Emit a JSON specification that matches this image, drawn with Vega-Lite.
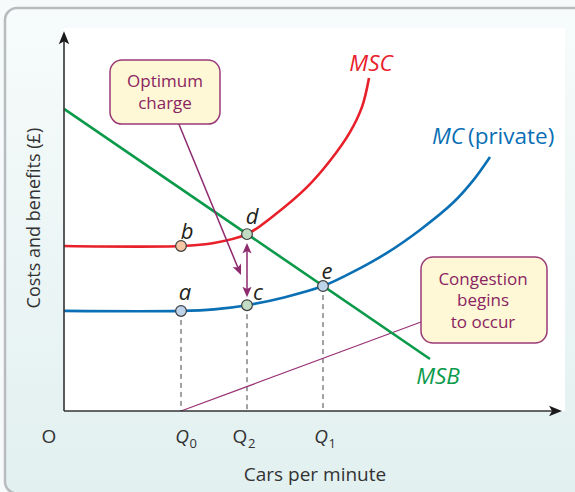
{
  "$schema": "https://vega.github.io/schema/vega-lite/v6.json",
  "width": 500,
  "height": 382,
  "autosize": {"type": "none"},
  "padding": {"left": 64, "top": 29, "right": 11, "bottom": 81},
  "background": "#f6fafa",
  "config": {"view": {"stroke": null}, "font": "Open Sans"},
  "encoding": {
    "x": {"field": "x", "type": "quantitative", "scale": {"domain": [0, 100], "nice": false, "zero": false}, "axis": null},
    "y": {"field": "y", "type": "quantitative", "scale": {"domain": [0, 100], "nice": false, "zero": false}, "axis": null}
  },
  "layer": [
    {
      "data": {"values": [{"x": -11.8, "x2": 115, "y": 105.5, "y2": -21.6}]},
      "mark": {"type": "rect", "clip": false, "cornerRadius": 12, "stroke": "#b9bcbf", "strokeWidth": 2.5,
        "fill": {"gradient": "linear", "x1": 0, "y1": 0, "x2": 0, "y2": 1,
          "stops": [{"offset": 0, "color": "#f7fbfb"}, {"offset": 1, "color": "#e2f0f0"}]}},
      "encoding": {"x2": {"field": "x2"}, "y2": {"field": "y2"}}
    },
    {
      "data": {"values": [{"x": 0, "x2": 100.2, "y": 0, "y2": 100.3}]},
      "mark": {"type": "rect", "fill": "#ffffff", "clip": false},
      "encoding": {"x2": {"field": "x2"}, "y2": {"field": "y2"}}
    },
    {
      "data": {"values": [{"x": 23.4, "y": 26.2, "y2": 0}, {"x": 36.6, "y": 27.7, "y2": 0}, {"x": 51.8, "y": 32.7, "y2": 0}]},
      "mark": {"type": "rule", "color": "#444444", "strokeWidth": 1, "strokeDash": [5, 4]},
      "encoding": {"y2": {"field": "y2"}}
    },
    {
      "data": {"values": [{"x": 23.4, "y": 0, "x2": 71.4, "y2": 23.3}]},
      "mark": {"type": "rule", "color": "#9a3577", "strokeWidth": 1.3},
      "encoding": {"x2": {"field": "x2"}, "y2": {"field": "y2"}}
    },
    {
      "data": {"values": [
        {"curve": "MSC", "x": 0, "y": 43.2}, {"curve": "MSC", "x": 23.4, "y": 43.2}, {"curve": "MSC", "x": 30, "y": 44.0},
        {"curve": "MSC", "x": 36.6, "y": 46.3}, {"curve": "MSC", "x": 41.8, "y": 51.0}, {"curve": "MSC", "x": 48.6, "y": 58.6},
        {"curve": "MSC", "x": 53.2, "y": 65.5}, {"curve": "MSC", "x": 57.2, "y": 73.0}, {"curve": "MSC", "x": 59.6, "y": 79.6},
        {"curve": "MSC", "x": 61, "y": 87.2},
        {"curve": "MC", "x": 0, "y": 26.2}, {"curve": "MC", "x": 23.4, "y": 26.2}, {"curve": "MC", "x": 30, "y": 26.6},
        {"curve": "MC", "x": 36.6, "y": 27.7}, {"curve": "MC", "x": 44.2, "y": 29.8}, {"curve": "MC", "x": 51.8, "y": 32.7},
        {"curve": "MC", "x": 57.8, "y": 36.4}, {"curve": "MC", "x": 64.6, "y": 41.4}, {"curve": "MC", "x": 71.2, "y": 47.4},
        {"curve": "MC", "x": 77.8, "y": 54.5}, {"curve": "MC", "x": 81.8, "y": 60.3}, {"curve": "MC", "x": 85.2, "y": 66.5},
        {"curve": "MSB", "x": 0, "y": 79.1}, {"curve": "MSB", "x": 73.2, "y": 13.6}
      ]},
      "mark": {"type": "line", "strokeWidth": 2.6, "interpolate": "catmull-rom"},
      "encoding": {
        "color": {"field": "curve", "type": "nominal", "legend": null,
          "scale": {"domain": ["MSC", "MC", "MSB"], "range": ["#e8202a", "#0a6fb4", "#0a9a4a"]}}
      }
    },
    {
      "data": {"values": [{"x": 22.6, "y": 76.3, "x2": 35.1, "y2": 36.5}, {"x": 36.6, "y": 42.0, "x2": 36.6, "y2": 31.8}]},
      "mark": {"type": "rule", "color": "#8e2a6e", "strokeWidth": 1.5},
      "encoding": {"x2": {"field": "x2"}, "y2": {"field": "y2"}}
    },
    {
      "data": {"values": [{"x": 35.4, "y": 35.6}]},
      "mark": {"type": "point", "filled": true, "opacity": 1, "color": "#8e2a6e", "size": 196, "angle": 157,
        "shape": "M0,0L-0.65,1.5L0,1.15L0.65,1.5Z"}
    },
    {
      "data": {"values": [{"x": 36.6, "y": 44.0}]},
      "mark": {"type": "point", "filled": true, "opacity": 1, "color": "#8e2a6e", "size": 196, "angle": 0,
        "shape": "M0,0L-0.65,1.5L0,1.15L0.65,1.5Z"}
    },
    {
      "data": {"values": [{"x": 36.6, "y": 29.8}]},
      "mark": {"type": "point", "filled": true, "opacity": 1, "color": "#8e2a6e", "size": 196, "angle": 180,
        "shape": "M0,0L-0.65,1.5L0,1.15L0.65,1.5Z"}
    },
    {
      "data": {"values": [
        {"x": 23.4, "y": 43.2, "kind": "social"}, {"x": 23.4, "y": 26.2, "kind": "private"},
        {"x": 36.6, "y": 46.3, "kind": "optimum"}, {"x": 36.6, "y": 27.7, "kind": "optimum"},
        {"x": 51.8, "y": 32.7, "kind": "private"}
      ]},
      "mark": {"type": "point", "filled": true, "opacity": 1, "size": 115, "stroke": "#3d3d3d", "strokeWidth": 1.2},
      "encoding": {
        "fill": {"field": "kind", "type": "nominal", "legend": null,
          "scale": {"domain": ["social", "private", "optimum"], "range": ["#f7c6a4", "#bed4eb", "#c2dcc4"]}}
      }
    },
    {
      "data": {"values": [{"x": 9.2, "x2": 31.2, "y": 91.9, "y2": 75.1}, {"x": 71.4, "x2": 96.6, "y": 40.3, "y2": 17.8}]},
      "mark": {"type": "rect", "fill": "#fff8d6", "stroke": "#9b3a78", "strokeWidth": 1.5, "cornerRadius": 12, "clip": false},
      "encoding": {"x2": {"field": "x2"}, "y2": {"field": "y2"}}
    },
    {
      "data": {"values": [
        {"x": 20.2, "y": 86.1, "t": "Optimum\ncharge"},
        {"x": 83.8, "y": 34.4, "t": "Congestion\nbegins\nto occur"}
      ]},
      "mark": {"type": "text", "fontSize": 17, "lineHeight": 21.5, "lineBreak": "\n", "color": "#8a2461", "align": "center", "baseline": "middle"},
      "encoding": {"text": {"field": "t"}}
    },
    {
      "data": {"values": [
        {"x": 24.6, "y": 46.9, "t": "b"}, {"x": 24.2, "y": 30.9, "t": "a"}, {"x": 37.6, "y": 50.8, "t": "d"},
        {"x": 38.8, "y": 30.9, "t": "c"}, {"x": 52.6, "y": 36.4, "t": "e"}
      ]},
      "mark": {"type": "text", "fontSize": 22, "fontStyle": "italic", "color": "#231f20", "align": "center", "baseline": "middle"},
      "encoding": {"text": {"field": "t"}}
    },
    {
      "data": {"values": [{"x": 61.4, "y": 90.8, "t": "MSC"}]},
      "mark": {"type": "text", "fontSize": 22.5, "fontStyle": "italic", "color": "#e8202a", "align": "center", "baseline": "middle"},
      "encoding": {"text": {"field": "t"}}
    },
    {
      "data": {"values": [{"x": 80.0, "y": 71.7, "t": "MC"}]},
      "mark": {"type": "text", "fontSize": 22.5, "fontStyle": "italic", "color": "#0a6fb4", "align": "right", "baseline": "middle"},
      "encoding": {"text": {"field": "t"}}
    },
    {
      "data": {"values": [{"x": 80.8, "y": 71.7, "t": "(private)"}]},
      "mark": {"type": "text", "fontSize": 22.5, "color": "#0a6fb4", "align": "left", "baseline": "middle"},
      "encoding": {"text": {"field": "t"}}
    },
    {
      "data": {"values": [{"x": 74.8, "y": 8.9, "t": "MSB"}]},
      "mark": {"type": "text", "fontSize": 22.5, "fontStyle": "italic", "color": "#0a9a4a", "align": "center", "baseline": "middle"},
      "encoding": {"text": {"field": "t"}}
    },
    {
      "data": {"values": [{"x": 0, "y": 0, "x2": 98.6, "y2": 0}, {"x": 0, "y": 0, "x2": 0, "y2": 97.5}]},
      "mark": {"type": "rule", "color": "#333333", "strokeWidth": 1.6, "clip": false},
      "encoding": {"x2": {"field": "x2"}, "y2": {"field": "y2"}}
    },
    {
      "data": {"values": [{"x": 0, "y": 99.4}]},
      "mark": {"type": "point", "filled": true, "opacity": 1, "color": "#1a1a1a", "size": 300, "angle": 0, "clip": false,
        "shape": "M0,0L-0.6,1.5L0,1.15L0.6,1.5Z"}
    },
    {
      "data": {"values": [{"x": 99.6, "y": 0}]},
      "mark": {"type": "point", "filled": true, "opacity": 1, "color": "#1a1a1a", "size": 300, "angle": 90, "clip": false,
        "shape": "M0,0L-0.6,1.5L0,1.15L0.6,1.5Z"}
    },
    {
      "data": {"values": [{"x": -3.0, "y": -6.8, "t": "O"}, {"x": 35.2, "y": -6.8, "t": "Q"}, {"x": 50.2, "y": -16.8, "t": "Cars per minute"}]},
      "mark": {"type": "text", "fontSize": 19, "color": "#333333", "align": "center", "baseline": "middle", "clip": false},
      "encoding": {"text": {"field": "t"}}
    },
    {
      "data": {"values": [{"x": 23.6, "y": -6.8, "t": "Q"}, {"x": 51.4, "y": -6.8, "t": "Q"}]},
      "mark": {"type": "text", "fontSize": 19, "fontStyle": "italic", "color": "#333333", "align": "center", "baseline": "middle", "clip": false},
      "encoding": {"text": {"field": "t"}}
    },
    {
      "data": {"values": [{"x": 25.1, "y": -8.7, "t": "0"}, {"x": 36.8, "y": -8.7, "t": "2"}, {"x": 52.9, "y": -8.7, "t": "1"}]},
      "mark": {"type": "text", "fontSize": 13, "color": "#333333", "align": "left", "baseline": "middle", "clip": false},
      "encoding": {"text": {"field": "t"}}
    },
    {
      "data": {"values": [{"x": -5.8, "y": 50.5, "t": "Costs and benefits (£)"}]},
      "mark": {"type": "text", "fontSize": 18, "angle": 270, "color": "#333333", "align": "center", "baseline": "middle", "clip": false},
      "encoding": {"text": {"field": "t"}}
    }
  ]
}
